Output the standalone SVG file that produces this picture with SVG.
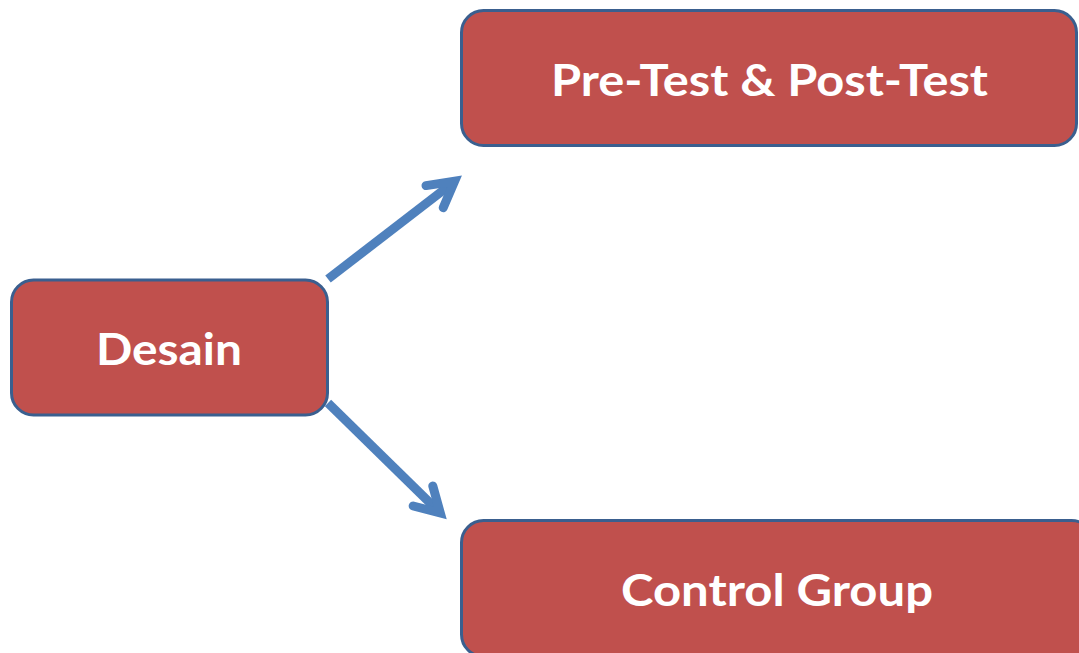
<svg xmlns="http://www.w3.org/2000/svg" width="1079" height="653" viewBox="0 0 1079 653">
<style>
.box{fill:#C0504D;stroke:#3A5F8F;stroke-width:3}
.lbl{fill:#FFFFFF;font-family:Lato,"Open Sans","Liberation Sans",sans-serif;font-weight:bold;font-size:44px;text-anchor:middle}
.shaft{fill:none;stroke:#4F81BD;stroke-width:9;stroke-linecap:butt}
.head{fill:none;stroke:#4F81BD;stroke-width:9;stroke-linecap:round;stroke-linejoin:miter;stroke-miterlimit:4}
</style>
<rect width="1079" height="653" fill="#FFFFFF"/>
<g id="connectors">
<g id="edge-desain-pretest">
<path class="shaft" d="M328,279 L452,183.5"/>
<path class="head" d="M426,185.6 L454.6,181.2 L443.2,207.7"/>
</g>
<g id="edge-desain-control">
<path class="shaft" d="M328,403 L438,510.8"/>
<path class="head" d="M432.8,486 L440.3,513 L413.2,506"/>
</g>
</g>
<g id="node-desain">
<rect class="box" x="11.5" y="280" width="316" height="135" rx="22"/>
<text class="lbl" x="169" y="365" textLength="146" lengthAdjust="spacingAndGlyphs">Desain</text>
</g>
<g id="node-pretest">
<rect class="box" x="461.5" y="10.5" width="615" height="135" rx="22"/>
<text class="lbl" x="769.5" y="96" textLength="437" lengthAdjust="spacingAndGlyphs">Pre-Test &amp; Post-Test</text>
</g>
<g id="node-control">
<rect class="box" x="461.5" y="520.5" width="632" height="136" rx="22"/>
<text class="lbl" x="777" y="606" textLength="312" lengthAdjust="spacingAndGlyphs">Control Group</text>
</g>
</svg>
